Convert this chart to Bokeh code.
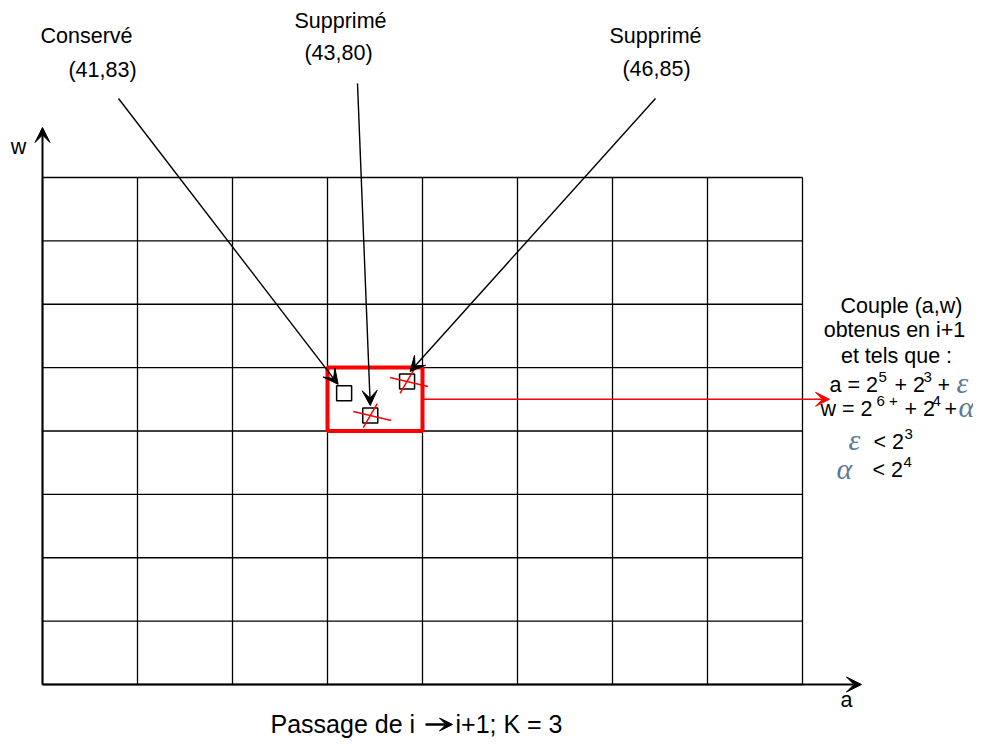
from bokeh.plotting import figure
from bokeh.models import Range1d, Arrow, VeeHead
from bokeh.core.properties import value
from bokeh.embed import file_html
from bokeh.resources import INLINE

# ---------------- data ----------------
a_edges = [16, 24, 32, 40, 48, 56, 64, 72, 80]          # cell borders along a (cells of 2^3)
w_edges = [16, 32, 48, 64, 80, 96, 112, 128, 144]       # cell borders along w (cells of 2^4)
cell_a = [40, 48]                                        # selected cell (red)
cell_w = [80, 96]
point_status = ["Conservé", "Supprimé", "Supprimé"]
point_labels = ["(41,83)", "(43,80)", "(46,85)"]
point_a = [41.4, 43.6, 46.7]                             # plotted positions
point_w = [89.5, 83.9, 92.5]
point_kept = [True, False, False]
axis_names = ["a", "w"]
info_lines = ["Couple (a,w)", "obtenus en i+1", "et tels que :"]
caption_left = "Passage de i"
caption_right = "i+1; K = 3"

# ---------------- layout (picture pixels) ----------------
FIG_W, FIG_H = 973, 738
OX, OY = 42, 684          # pixel of (a_edges[0], w_edges[0])
PX_A = 11.875             # pixels per unit of a
PX_W = 3.961              # pixels per unit of w


def A(X):
    return a_edges[0] + (X - OX) / PX_A


def Wv(Y):
    return w_edges[0] + (OY - Y) / PX_W


def dA(dx):
    return dx / PX_A


def dW(dy):
    return -dy / PX_W


FONT = value("Liberation Sans")
MATH_FONT = value("Liberation Serif")
GREEK_COLOR = "#5d7896"
TXT = value("21.5px")

p = figure(width=FIG_W, height=FIG_H,
           x_range=Range1d(A(0), A(FIG_W)), y_range=Range1d(Wv(FIG_H), Wv(0)),
           output_backend="svg", toolbar_location=None,
           x_axis_location=None, y_axis_location=None,
           min_border=0, outline_line_color=None)
p.xgrid.visible = False
p.ygrid.visible = False
p.background_fill_color = "white"

# grid of cells
n_a, n_w = len(a_edges), len(w_edges)
p.segment(x0=a_edges, y0=[w_edges[0]] * n_a, x1=a_edges, y1=[w_edges[-1]] * n_a,
          line_color="black", line_width=1.3)
p.segment(x0=[a_edges[0]] * n_w, y0=w_edges, x1=[a_edges[-1]] * n_w, y1=w_edges,
          line_color="black", line_width=1.3)

# axes arrows
p.add_layout(Arrow(end=VeeHead(size=15, fill_color="black", line_color="black", line_width=1),
                   x_start=a_edges[0], y_start=w_edges[0], x_end=A(861), y_end=w_edges[0],
                   line_color="black", line_width=2))
p.add_layout(Arrow(end=VeeHead(size=15, fill_color="black", line_color="black", line_width=1),
                   x_start=a_edges[0], y_start=w_edges[0], x_end=a_edges[0], y_end=Wv(127),
                   line_color="black", line_width=2))
p.text(x=[A(846), A(18)], y=[Wv(699), Wv(146)], text=axis_names,
       text_font=FONT, text_font_size=TXT, text_color="black",
       text_align="center", text_baseline="middle")

# selected cell
p.quad(left=[cell_a[0]], right=[cell_a[1]], bottom=[cell_w[0]], top=[cell_w[1]],
       fill_color=None, line_color="#ff0000", line_width=4)

# points
p.scatter(point_a, point_w, marker="square", size=15, fill_color=None,
          line_color="black", line_width=1.5)

# red strike-through of removed points
x0s, y0s, x1s, y1s = [], [], [], []
for a, w, k in zip(point_a, point_w, point_kept):
    if k:
        continue
    x0s += [a + dA(-17), a + dA(-7)]
    y0s += [w + dW(-4), w + dW(12)]
    x1s += [a + dA(21), a + dA(7)]
    y1s += [w + dW(5), w + dW(-12)]
p.segment(x0=x0s, y0=y0s, x1=x1s, y1=y1s, line_color="#ff0000", line_width=1.5)

# labels and pointer arrows
status_pos = [(86, 35), (340, 20), (655, 35)]
coord_pos = [(102, 69), (338, 52), (656, 68)]
arrow_start = [(118, 98), (357, 83), (655, 98)]
tip_offset = [(-6, -9), (0, -10), (3, -10)]

p.text(x=[A(x) for x, _ in status_pos], y=[Wv(y) for _, y in status_pos], text=point_status,
       text_font=FONT, text_font_size=TXT, text_color="black",
       text_align="center", text_baseline="middle")
p.text(x=[A(x) for x, _ in coord_pos], y=[Wv(y) for _, y in coord_pos], text=point_labels,
       text_font=FONT, text_font_size=TXT, text_color="black",
       text_align="center", text_baseline="middle")

for (sx, sy), (ox, oy), a, w in zip(arrow_start, tip_offset, point_a, point_w):
    p.add_layout(Arrow(end=VeeHead(size=15, fill_color="black", line_color="black", line_width=1),
                       x_start=A(sx), y_start=Wv(sy), x_end=a + dA(ox), y_end=w + dW(oy),
                       line_color="black", line_width=1.4))

# red arrow to the explanation
mid_w = (cell_w[0] + cell_w[1]) / 2
p.add_layout(Arrow(end=VeeHead(size=14, fill_color="#ff0000", line_color="#ff0000", line_width=1),
                   x_start=cell_a[1], y_start=mid_w, x_end=A(829), y_end=mid_w,
                   line_color="#ff0000", line_width=1.4))

# explanation block
info_pos = [(901, 305), (894, 329), (896, 355)]
p.text(x=[A(x) for x, _ in info_pos], y=[Wv(y) for _, y in info_pos], text=info_lines,
       text_font=FONT, text_font_size=TXT, text_color="black",
       text_align="center", text_baseline="middle")

main_segs = [("a = 2", 829, 384), ("+ 2", 894, 384), ("+", 937, 384),
             ("w = 2", 820, 408), ("+ 2", 904, 408), ("+", 944, 408),
             ("< 2", 873, 441), ("< 2", 872, 469)]
sup_segs = [("5", 878, 376), ("3", 923, 376), ("6 +", 876, 400), ("4", 932, 400),
            ("3", 904, 433), ("4", 903, 461)]
greek_segs = [("ε", 956, 382), ("α", 958, 406), ("ε", 848, 439), ("α", 836, 468)]

p.text(x=[A(x) for _, x, _ in main_segs], y=[Wv(y) for _, _, y in main_segs],
       text=[t for t, _, _ in main_segs],
       text_font=FONT, text_font_size=TXT, text_color="black",
       text_align="left", text_baseline="middle")
p.text(x=[A(x) for _, x, _ in sup_segs], y=[Wv(y) for _, _, y in sup_segs],
       text=[t for t, _, _ in sup_segs],
       text_font=FONT, text_font_size=value("15px"), text_color="black",
       text_align="left", text_baseline="middle")
p.text(x=[A(x) for _, x, _ in greek_segs], y=[Wv(y) for _, _, y in greek_segs],
       text=[t for t, _, _ in greek_segs],
       text_font=MATH_FONT, text_font_size=value("30px"), text_font_style="italic",
       text_color=GREEK_COLOR, text_align="left", text_baseline="middle")

# caption (kept inside the drawing area)
p.text(x=[A(270)], y=[Wv(723)], text=[caption_left],
       text_font=FONT, text_font_size=value("25px"), text_color="black",
       text_align="left", text_baseline="middle")
p.add_layout(Arrow(end=VeeHead(size=13, fill_color="black", line_color="black", line_width=1),
                   x_start=A(425), y_start=Wv(724), x_end=A(452), y_end=Wv(724),
                   line_color="black", line_width=2.5))
p.text(x=[A(455)], y=[Wv(723)], text=[caption_right],
       text_font=FONT, text_font_size=value("25px"), text_color="black",
       text_align="left", text_baseline="middle")

open("out.html", "w").write(file_html(p, INLINE))
